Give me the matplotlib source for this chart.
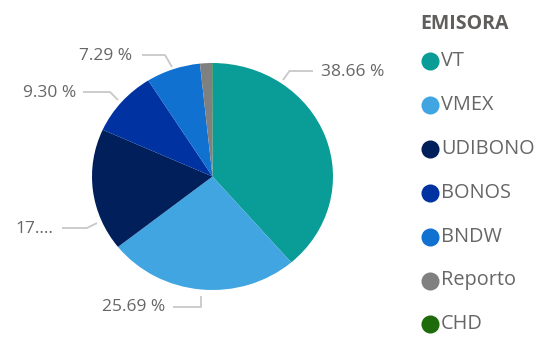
import matplotlib
matplotlib.use("Agg")
import matplotlib.pyplot as plt

# datos
emisoras = ['VT', 'VMEX', 'UDIBONO', 'BONOS', 'BNDW', 'Reporto', 'CHD']
porcentajes = [38.66, 25.69, 17.40, 9.30, 7.29, 1.60, 0.06]
colores = ['#0A9C96', '#41A5E1', '#001F5B', '#0033A1', '#1171D1', '#808080', '#1D6B0B']
etiquetas = ['38.66 %', '25.69 %', '17....', '9.30 %', '7.29 %']

W, H = 541, 341
plt.rcParams['font.family'] = ['Open Sans', 'DejaVu Sans']

fig = plt.figure(figsize=(W / 100, H / 100), dpi=100, facecolor='white')

# eje para el pastel (ligeramente eliptico como en la imagen)
cx, cy, rx, ry = 212.5, 176.5, 120.5, 113.5
pax = fig.add_axes([(cx - rx) / W, (H - cy - ry) / H, 2 * rx / W, 2 * ry / H])
pax.pie(porcentajes, colors=colores, startangle=90, counterclock=False,
        wedgeprops=dict(linewidth=0))
pax.set_aspect('auto')
pax.set_xlim(-1, 1)
pax.set_ylim(-1, 1)
pax.axis('off')

# eje de superposicion en pixeles
ax = fig.add_axes([0, 0, 1, 1])
ax.set_xlim(0, W)
ax.set_ylim(H, 0)
ax.axis('off')

# lineas guia: (puntos de la linea, posicion del texto, alineacion)
guias = [
    ([(283, 80), (289.5, 71), (313, 71)], (321, 72), 'left'),
    ([(201, 296), (201, 307), (173, 307)], (165, 307), 'right'),
    ([(97, 223), (87, 228), (62, 228)], (53, 229), 'right'),
    ([(118, 100), (110, 92), (83, 92)], (76, 93), 'right'),
    ([(172, 67), (165, 55), (142, 55)], (132, 56), 'right'),
]
for txt, (pts, pos, ha) in zip(etiquetas, guias):
    xs = [p[0] for p in pts]
    ys = [p[1] for p in pts]
    ax.plot(xs, ys, color='#C8C8C8', lw=1.3, solid_capstyle='butt')
    ax.text(pos[0], pos[1], txt, ha=ha, va='center', fontsize=12.5, color='#666666')

# leyenda
ax.text(420, 24, 'EMISORA', ha='left', va='center', fontsize=14,
        fontweight='bold', color='#605E5C')
for i, (nombre, c) in enumerate(zip(emisoras, colores)):
    y = 61 + 43.9 * i
    ax.plot(430, y, marker='o', markersize=13, color=c, markeredgewidth=0)
    ax.text(441, y, nombre, ha='left', va='center', fontsize=14.3, color='#666666')

fig.savefig('out.png', dpi=100, facecolor='white')
